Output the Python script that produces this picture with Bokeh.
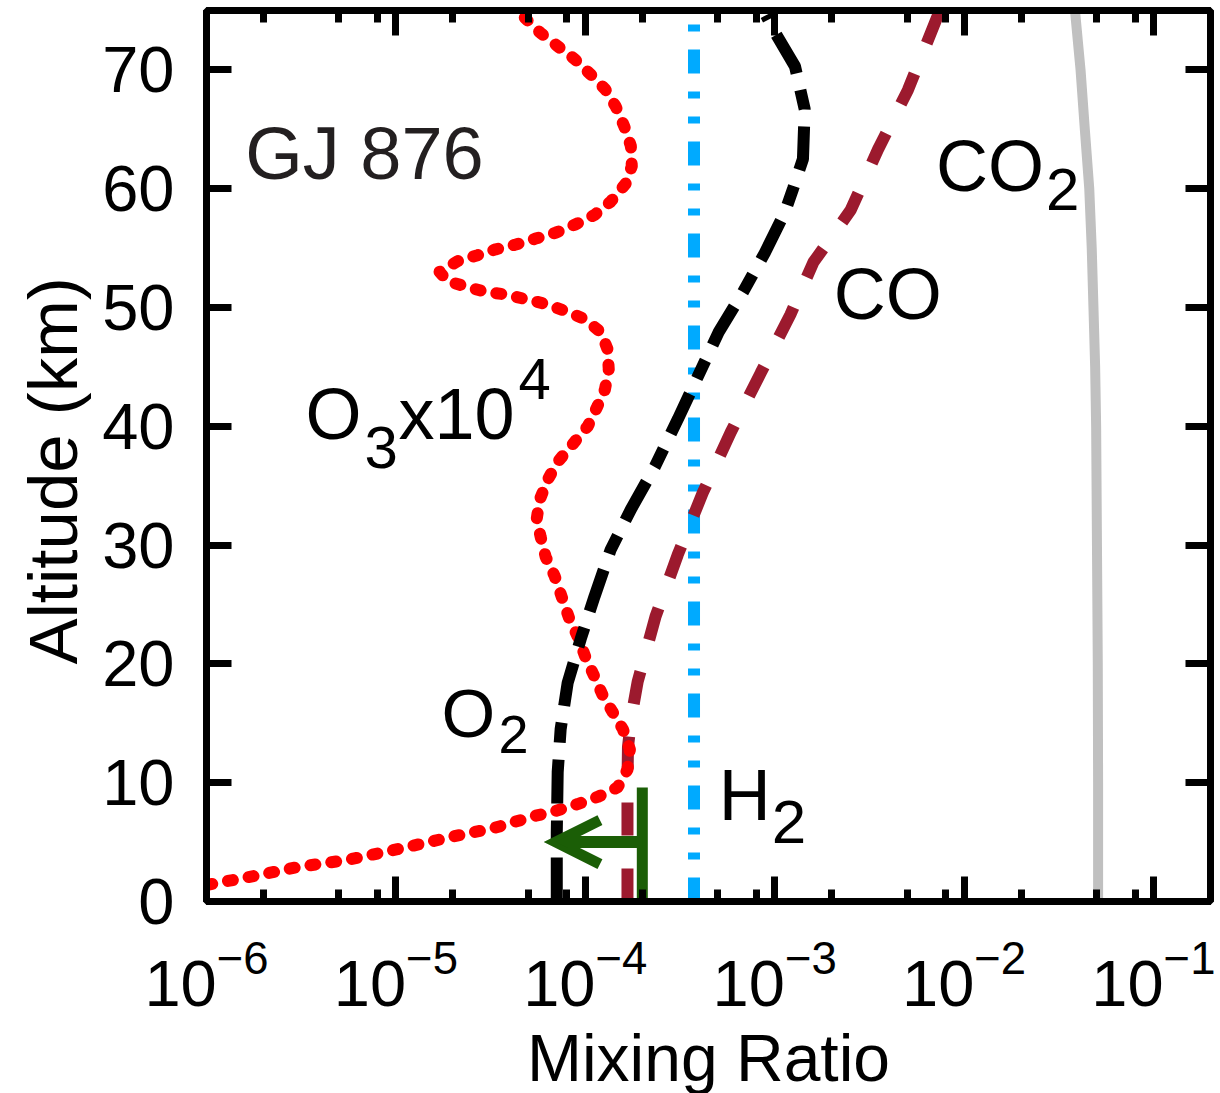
from bokeh.plotting import figure
from bokeh.models import Range1d, FixedTicker, LogAxis, LinearAxis, Arrow, OpenHead, Title
from bokeh.embed import file_html
from bokeh.resources import INLINE
from bokeh.core.properties import value

FONT = "Liberation Sans"

# ---------------- data ----------------
x_major_ticks = [1e-6, 1e-5, 1e-4, 1e-3, 1e-2, 1e-1]
x_minor_ticks = [2e-6, 5e-6, 8e-6, 2e-5, 5e-5, 8e-5, 2e-4, 5e-4, 8e-4,
                 2e-3, 5e-3, 8e-3, 2e-2, 5e-2, 8e-2]
y_ticks = [0, 10, 20, 30, 40, 50, 60, 70]

co2_alt = [0, 10, 20, 30, 40, 45, 50, 55, 60, 65, 70, 75]
co2_mix = [0.051, 0.051, 0.0508, 0.0503, 0.0498, 0.0492, 0.0482, 0.0472,
           0.0458, 0.0434, 0.0412, 0.0385]

h2_alt = [0, 75]
h2_mix = [3.75e-4, 3.75e-4]

co_alt = [0, 5, 10, 13, 15.5, 18.5, 24, 29.2, 34.4, 39.5, 44.5, 49.4, 53.8,
          58.2, 63.3, 68.3, 75]
co_mix = [1.67e-4, 1.67e-4, 1.67e-4, 1.68e-4, 1.75e-4, 1.89e-4, 2.35e-4,
          3.08e-4, 4.17e-4, 5.86e-4, 8.44e-4, 1.21e-3, 1.6e-3, 2.52e-3,
          3.51e-3, 5.05e-3, 7.45e-3]

o3_alt = [1.4, 2.2, 2.9, 3.5, 4.4, 5.5, 6.2, 7.2, 7.6, 8.2, 8.8, 9.6, 11.1,
          12.8, 14.5, 15.9, 17.3, 18.9, 20.6, 22.3, 23.7, 25.4, 27.4, 29.0,
          30.7, 32.2, 33.8, 35.5, 37.0, 38.3, 40.0, 41.7, 43.1, 44.8, 46.5,
          47.9, 49.0, 49.7, 50.3, 50.7, 51.1, 51.3, 51.8, 52.2, 53.0, 53.9,
          54.4, 54.9, 55.3, 55.8, 56.3, 57.0, 57.8, 58.9, 60.4, 61.9, 63.6,
          65.2, 66.9, 68.4, 69.6, 70.9, 72.0, 73.1, 74.4]
o3_mix_x1e4 = [1.01e-6, 1.86e-6, 3.03e-6, 5.56e-6, 1.02e-5, 2.04e-5, 3.32e-5,
               5.41e-5, 6.89e-5, 9.12e-5, 1.16e-4, 1.48e-4, 1.67e-4, 1.72e-4,
               1.58e-4, 1.40e-4, 1.24e-4, 1.12e-4, 1.00e-4, 9.12e-5, 8.28e-5,
               7.60e-5, 6.89e-5, 6.18e-5, 5.81e-5, 5.54e-5, 5.74e-5, 6.33e-5,
               7.14e-5, 8.38e-5, 1.03e-4, 1.16e-4, 1.27e-4, 1.33e-4, 1.31e-4,
               1.21e-4, 1.00e-4, 7.87e-5, 6.18e-5, 4.84e-5, 3.80e-5, 2.98e-5,
               2.31e-5, 1.88e-5, 1.70e-5, 2.12e-5, 2.70e-5, 3.37e-5, 4.30e-5,
               5.47e-5, 6.98e-5, 8.89e-5, 1.12e-4, 1.36e-4, 1.63e-4, 1.76e-4,
               1.74e-4, 1.61e-4, 1.45e-4, 1.27e-4, 1.07e-4, 8.80e-5, 7.14e-5,
               5.81e-5, 4.79e-5]

o2_alt = [0, 5.8, 10.9, 14.5, 18.4, 22.1, 25.7, 29.6, 33.0, 36.6, 40.6, 44.2,
          47.9, 51.3, 54.6, 58.0, 60.0, 62.5, 66.7, 70.3, 73.2, 74.6]
o2_mix = [7.07e-5, 7.07e-5, 7.15e-5, 7.41e-5, 8.07e-5, 9.46e-5, 1.12e-4,
          1.36e-4, 1.74e-4, 2.33e-4, 3.08e-4, 3.93e-4, 5.05e-4, 6.8e-4,
          8.87e-4, 1.13e-3, 1.25e-3, 1.41e-3, 1.44e-3, 1.28e-3, 1.0e-3, 9.0e-4]

# O2 upper limit (observational constraint)
o2_limit_mix = 2.0e-4
o2_limit_alt_top = 9.6
o2_limit_arrow_alt = 5.0
o2_limit_arrow_to = 7.0e-5

# ---------------- figure ----------------
p = figure(x_axis_type="log", x_range=Range1d(1e-6, 0.2), y_range=Range1d(0, 75),
           frame_width=1004, frame_height=891,
           min_border_left=206, min_border_right=5, min_border_top=10,
           min_border_bottom=181,
           output_backend="svg", toolbar_location=None,
           background_fill_color="white", border_fill_color="white")
p.xgrid.visible = False
p.ygrid.visible = False
p.outline_line_color = "black"
p.outline_line_width = 7


def style(ax, labels=True):
    ax.axis_line_width = 7
    ax.axis_line_color = "black"
    ax.major_tick_in = 25
    ax.major_tick_out = 0
    ax.minor_tick_in = 12
    ax.minor_tick_out = 0
    ax.major_tick_line_width = 7
    ax.minor_tick_line_width = 7
    ax.major_tick_line_color = "black"
    ax.minor_tick_line_color = "black"
    ax.major_label_text_font = FONT
    if labels:
        ax.major_label_text_font_size = "65px"
        ax.major_label_text_color = "black"
    else:
        ax.major_label_text_font_size = "1px"
        ax.major_label_text_color = None
        ax.major_label_standoff = 0


xb = p.xaxis[0]
xb.ticker = FixedTicker(ticks=x_major_ticks, minor_ticks=x_minor_ticks)
style(xb)
xb.major_label_standoff = 38
xb.axis_label = "Mixing Ratio"
xb.axis_label_text_font = FONT
xb.axis_label_text_font_size = "66px"
xb.axis_label_text_font_style = "normal"
xb.axis_label_text_color = "black"
xb.axis_label_standoff = 12

yl = p.yaxis[0]
yl.ticker = FixedTicker(ticks=y_ticks)
style(yl)
yl.major_label_standoff = 32

xt = LogAxis(ticker=FixedTicker(ticks=x_major_ticks, minor_ticks=x_minor_ticks))
style(xt, labels=False)
p.add_layout(xt, "above")

yr = LinearAxis(ticker=FixedTicker(ticks=y_ticks))
style(yr, labels=False)
p.add_layout(yr, "right")

# y-axis title as a side title (allows shifting along the axis)
p.add_layout(Title(text="Altitude (km)", align="left", offset=237,
                   vertical_align="top",
                   text_font=FONT, text_font_size="69px",
                   text_font_style="normal", text_color="black",
                   standoff=12), "left")

# ---------------- curves ----------------
p.line(co2_mix, co2_alt, line_color="#c0c0c0", line_width=10)
p.line(h2_mix, h2_alt, line_color="#00aaff", line_width=12,
       line_dash="24 18 7 18 7 18")
p.line(co_mix, co_alt, line_color="#9c1a2e", line_width=12, line_dash="33 33")
p.line(o3_mix_x1e4, o3_alt, line_color="#ff0000", line_width=12,
       line_dash="5 16", line_cap="round", line_join="round")
p.line(o2_mix, o2_alt, line_color="black", line_width=12,
       line_dash="44 17 20 17")

# upper limit marker
GREEN = "#1b5e06"
p.segment(x0=[o2_limit_mix], y0=[0], x1=[o2_limit_mix], y1=[o2_limit_alt_top],
          line_color=GREEN, line_width=11)
p.add_layout(Arrow(x_start=o2_limit_mix, y_start=o2_limit_arrow_alt,
                   x_end=o2_limit_arrow_to, y_end=o2_limit_arrow_alt,
                   line_color=GREEN, line_width=12,
                   end=OpenHead(size=44, line_color=GREEN, line_width=11,
                                line_join="miter")))

# ---------------- labels ----------------
def label(x, y, txt, size, dx=0, dy=0, color="black"):
    p.text(x=[x], y=[y], text=[txt], text_font=value(FONT),
           text_font_size=size, text_color=color, text_align="left",
           text_baseline="alphabetic", x_offset=dx, y_offset=dy)

label(1.6e-6, 63.0, "GJ 876", "74px", color="#231f20")

label(7.1e-3, 61.9, "CO", "72px")
label(7.1e-3, 61.9, "2", "60px", dx=110, dy=23)

label(2.05e-3, 51.1, "CO", "72px")

label(3.33e-6, 41.0, "O", "72px")
label(3.33e-6, 41.0, "3", "60px", dx=59, dy=33)
label(3.33e-6, 41.0, "x10", "72px", dx=93)
label(3.33e-6, 41.0, "4", "58px", dx=213, dy=-35)

label(1.74e-5, 15.8, "O", "69px")
label(1.74e-5, 15.8, "2", "54px", dx=57, dy=21)

label(5.07e-4, 9.0, "H", "72px")
label(5.07e-4, 9.0, "2", "62px", dx=53, dy=27)

open("out.html", "w").write(file_html(p, INLINE))
